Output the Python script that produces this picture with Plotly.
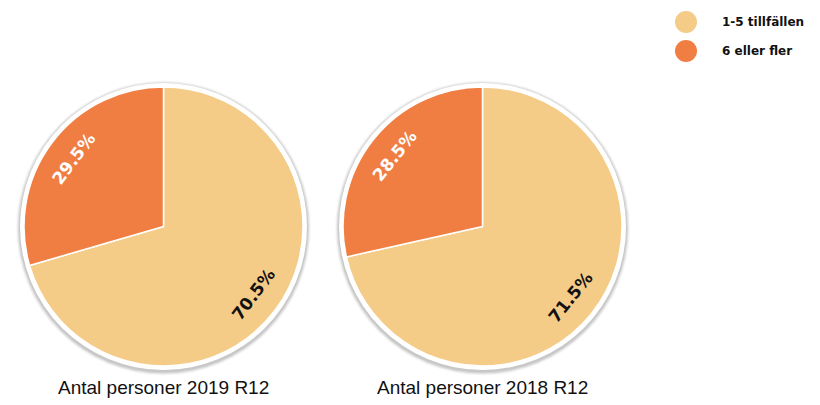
import math
import plotly.graph_objects as go

labels = ["1-5 tillfällen", "6 eller fler"]
values_2019 = [70.5, 29.5]
values_2018 = [71.5, 28.5]
titles = ["Antal personer 2019 R12", "Antal personer 2018 R12"]
colors = ["#F5CB88", "#F07E42"]
text_colors = ["#111111", "#FFFFFF"]

W, H = 820, 405
fig = go.Figure()

domains = [
    dict(x=[24 / W, 303 / W], y=[1 - 366 / H, 1 - 87 / H]),
    dict(x=[343 / W, 622 / W], y=[1 - 366 / H, 1 - 87 / H]),
]


def circle(cx, cy, r, color, dy=0.0):
    fig.add_shape(type="circle", xref="paper", yref="paper",
                  x0=(cx - r) / W, x1=(cx + r) / W,
                  y0=(cy - r - dy) / H, y1=(cy + r - dy) / H,
                  fillcolor=color, line=dict(width=0), layer="below")


for vals, dom, title in zip([values_2019, values_2018], domains, titles):
    fig.add_trace(go.Pie(
        labels=labels, values=vals, sort=False, direction="clockwise", rotation=0,
        domain=dom, marker=dict(colors=colors, line=dict(color="white", width=1.5)),
        textinfo="none", showlegend=False, hoverinfo="label+percent",
    ))
    cx_px = (dom["x"][0] + dom["x"][1]) / 2 * W
    cy_px = (dom["y"][0] + dom["y"][1]) / 2 * H
    r_px = min((dom["x"][1] - dom["x"][0]) * W, (dom["y"][1] - dom["y"][0]) * H) / 2

    # soft shadow + white rim behind the pie
    circle(cx_px, cy_px, r_px + 8, "rgba(0,0,0,0.03)", dy=1.5)
    circle(cx_px, cy_px, r_px + 7, "rgba(0,0,0,0.05)", dy=1.5)
    circle(cx_px, cy_px, r_px + 6, "rgba(0,0,0,0.07)", dy=1.5)
    circle(cx_px, cy_px, r_px + 5, "rgba(0,0,0,0.08)", dy=1.5)
    circle(cx_px, cy_px, r_px + 4, "#FFFFFF")

    # tangential slice labels computed from the values
    total = sum(vals)
    start = 0.0
    for v, tc in zip(vals, text_colors):
        mid = (start + v / 2) / total * 360.0
        start += v
        rad = math.radians(mid)
        px = cx_px + 0.81 * r_px * math.sin(rad)
        py = cy_px + 0.81 * r_px * math.cos(rad)
        ang = mid - 180.0
        while ang > 90:
            ang -= 180
        while ang < -90:
            ang += 180
        fig.add_annotation(x=px / W, y=py / H, xref="paper", yref="paper",
                           text=f"{v:.1f}%", showarrow=False, textangle=ang,
                           xanchor="center", yanchor="middle",
                           font=dict(family="DejaVu Sans", size=17, color=tc, weight="bold"))

    fig.add_annotation(x=cx_px / W, y=1 - 387 / H, xref="paper", yref="paper",
                       xanchor="center", yanchor="middle",
                       text=title, showarrow=False,
                       font=dict(family="Liberation Sans, Arial", size=19, color="#111"))

# legend drawn as circles + labels
for i, (lab, col) in enumerate(zip(labels, colors)):
    ly = 22 + i * 29
    fig.add_shape(type="circle", xref="paper", yref="paper",
                  x0=(686 - 11) / W, x1=(686 + 11) / W,
                  y0=1 - (ly + 11) / H, y1=1 - (ly - 11) / H,
                  fillcolor=col, line=dict(width=0))
    fig.add_annotation(x=720 / W, y=1 - ly / H, xref="paper", yref="paper",
                       xanchor="left", yanchor="middle", text=lab, showarrow=False,
                       font=dict(family="DejaVu Sans", size=12, color="#111", weight="bold"))

fig.update_layout(
    width=W, height=H, margin=dict(l=0, r=0, t=0, b=0),
    paper_bgcolor="white", plot_bgcolor="white",
    xaxis=dict(visible=False), yaxis=dict(visible=False),
    showlegend=False,
)

fig.write_html("out.html", config={"displayModeBar": False},
               post_script="document.body.style.margin='0';document.body.style.overflow='hidden';")
